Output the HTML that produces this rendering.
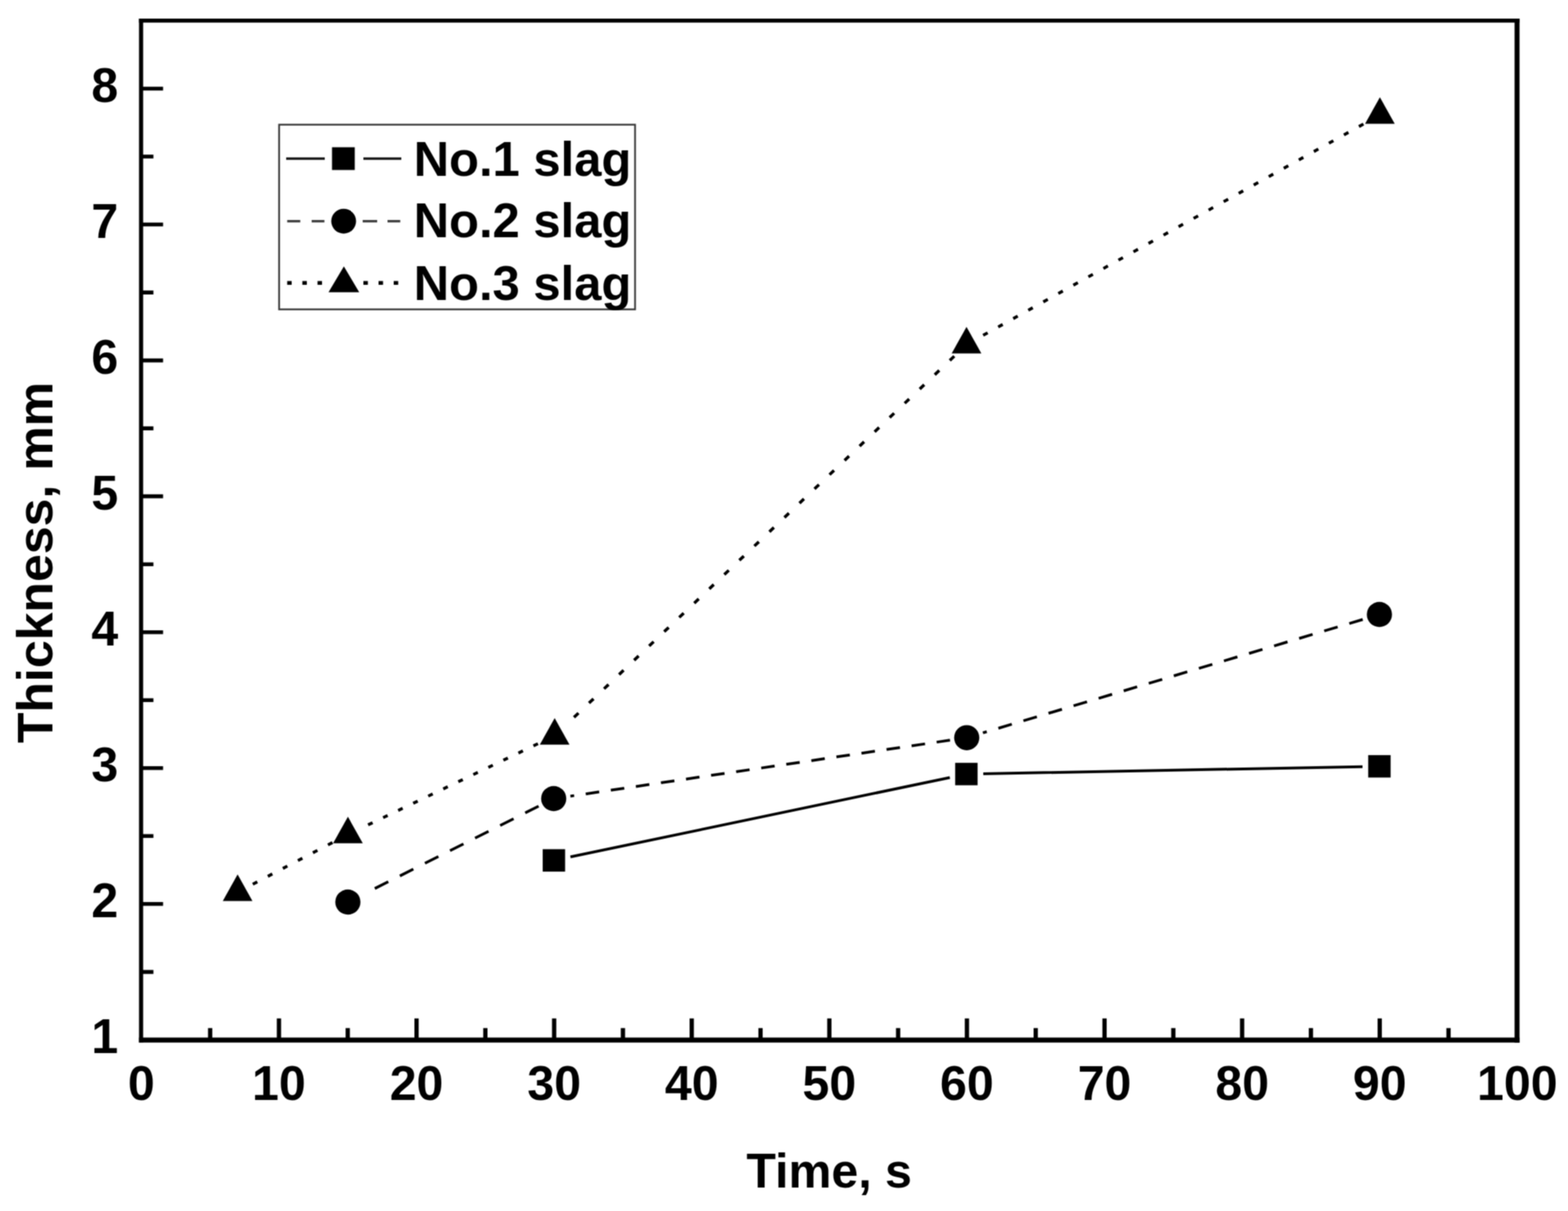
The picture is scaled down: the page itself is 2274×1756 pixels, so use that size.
<!DOCTYPE html>
<html><head><meta charset="utf-8"><title>Thickness vs Time</title>
<style>html,body{margin:0;padding:0;background:#fff;overflow:hidden}svg{display:block}</style>
</head><body>
<svg width="2274" height="1756" viewBox="0 0 2274 1756">
<rect width="2274" height="1756" fill="#fff"/>
<defs><filter id="b" x="0" y="0" width="2274" height="1756" filterUnits="userSpaceOnUse" color-interpolation-filters="sRGB"><feConvolveMatrix order="3" kernelMatrix="1 2 1 2 4 2 1 2 1" divisor="16" edgeMode="duplicate"/></filter></defs>
<g filter="url(#b)">
<rect width="2274" height="1756" fill="#fff"/>
<path d="M204.60 1507.85H236.50M204.60 1409.33H222.50M204.60 1310.80H236.50M204.60 1212.28H222.50M204.60 1113.75H236.50M204.60 1015.23H222.50M204.60 916.70H236.50M204.60 818.18H222.50M204.60 719.65H236.50M204.60 621.12H222.50M204.60 522.60H236.50M204.60 424.08H222.50M204.60 325.55H236.50M204.60 227.03H222.50M204.60 128.50H236.50" stroke="#000" stroke-width="5.6" fill="none"/>
<path d="M304.77 1508.20V1490.70M404.55 1508.20V1476.70M504.32 1508.20V1490.70M604.10 1508.20V1476.70M703.88 1508.20V1490.70M803.65 1508.20V1476.70M903.42 1508.20V1490.70M1003.20 1508.20V1476.70M1102.97 1508.20V1490.70M1202.75 1508.20V1476.70M1302.52 1508.20V1490.70M1402.30 1508.20V1476.70M1502.07 1508.20V1490.70M1601.85 1508.20V1476.70M1701.62 1508.20V1490.70M1801.40 1508.20V1476.70M1901.17 1508.20V1490.70M2000.95 1508.20V1476.70M2100.72 1508.20V1490.70" stroke="#000" stroke-width="6.2" fill="none"/>
<path d="M204.6 27V1511.5" stroke="#000" stroke-width="6"/>
<path d="M201.6 29.8H2203.6" stroke="#000" stroke-width="5.8"/>
<path d="M2200.1 27V1511.9" stroke="#000" stroke-width="7.2"/>
<path d="M201.6 1508.2H2203.7" stroke="#000" stroke-width="7.2"/>
<text x="205.00" y="1595" text-anchor="middle" font-size="70" font-family="Liberation Sans, Arial, sans-serif" font-weight="bold">0</text>
<text x="404.55" y="1595" text-anchor="middle" font-size="70" font-family="Liberation Sans, Arial, sans-serif" font-weight="bold">10</text>
<text x="604.10" y="1595" text-anchor="middle" font-size="70" font-family="Liberation Sans, Arial, sans-serif" font-weight="bold">20</text>
<text x="803.65" y="1595" text-anchor="middle" font-size="70" font-family="Liberation Sans, Arial, sans-serif" font-weight="bold">30</text>
<text x="1003.20" y="1595" text-anchor="middle" font-size="70" font-family="Liberation Sans, Arial, sans-serif" font-weight="bold">40</text>
<text x="1202.75" y="1595" text-anchor="middle" font-size="70" font-family="Liberation Sans, Arial, sans-serif" font-weight="bold">50</text>
<text x="1402.30" y="1595" text-anchor="middle" font-size="70" font-family="Liberation Sans, Arial, sans-serif" font-weight="bold">60</text>
<text x="1601.85" y="1595" text-anchor="middle" font-size="70" font-family="Liberation Sans, Arial, sans-serif" font-weight="bold">70</text>
<text x="1801.40" y="1595" text-anchor="middle" font-size="70" font-family="Liberation Sans, Arial, sans-serif" font-weight="bold">80</text>
<text x="2000.95" y="1595" text-anchor="middle" font-size="70" font-family="Liberation Sans, Arial, sans-serif" font-weight="bold">90</text>
<text x="2200.50" y="1595" text-anchor="middle" font-size="70" font-family="Liberation Sans, Arial, sans-serif" font-weight="bold">100</text>
<text x="171.5" y="1527.35" text-anchor="end" font-size="70" font-family="Liberation Sans, Arial, sans-serif" font-weight="bold">1</text>
<text x="171.5" y="1330.30" text-anchor="end" font-size="70" font-family="Liberation Sans, Arial, sans-serif" font-weight="bold">2</text>
<text x="171.5" y="1133.25" text-anchor="end" font-size="70" font-family="Liberation Sans, Arial, sans-serif" font-weight="bold">3</text>
<text x="171.5" y="936.20" text-anchor="end" font-size="70" font-family="Liberation Sans, Arial, sans-serif" font-weight="bold">4</text>
<text x="171.5" y="739.15" text-anchor="end" font-size="70" font-family="Liberation Sans, Arial, sans-serif" font-weight="bold">5</text>
<text x="171.5" y="542.10" text-anchor="end" font-size="70" font-family="Liberation Sans, Arial, sans-serif" font-weight="bold">6</text>
<text x="171.5" y="345.05" text-anchor="end" font-size="70" font-family="Liberation Sans, Arial, sans-serif" font-weight="bold">7</text>
<text x="171.5" y="148.00" text-anchor="end" font-size="70" font-family="Liberation Sans, Arial, sans-serif" font-weight="bold">8</text>
<text x="1202.5" y="1721.5" text-anchor="middle" font-size="70" font-family="Liberation Sans, Arial, sans-serif" font-weight="bold">Time, s</text>
<text transform="translate(76,815.6) rotate(-90)" x="0" y="0" text-anchor="middle" font-size="72.5" font-family="Liberation Sans, Arial, sans-serif" font-weight="bold">Thickness, mm</text>
<path d="M827.28 1242.58L1377.52 1127.42M1426.00 1121.94L1976.00 1111.66" stroke="#000" stroke-width="4" fill="none"/>
<path d="M543.60 1288.35L563.10 1278.55M579.95 1270.09L599.45 1260.29M616.30 1251.82L635.80 1242.02M652.65 1233.55L672.15 1223.75M689.00 1215.29L708.50 1205.49M725.35 1197.02L744.85 1187.22M761.70 1178.75L781.11 1169.00M827.24 1154.43L832.65 1153.63M849.50 1151.15L869.00 1148.27M885.85 1145.79L905.35 1142.91M922.20 1140.43L941.70 1137.55M958.55 1135.07L978.05 1132.20M994.90 1129.71L1014.40 1126.84M1031.25 1124.35L1050.75 1121.48M1067.60 1118.99L1087.10 1116.12M1103.95 1113.64L1123.45 1110.76M1140.30 1108.28L1159.80 1105.40M1176.65 1102.92L1196.15 1100.04M1213.00 1097.56L1232.50 1094.69M1249.35 1092.20L1268.85 1089.33M1285.70 1086.84L1305.20 1083.97M1322.05 1081.49L1341.55 1078.61M1358.40 1076.13L1377.76 1073.27M1425.48 1062.69L1431.05 1061.03M1447.90 1056.00L1467.40 1050.17M1484.25 1045.14L1503.75 1039.32M1520.60 1034.29L1540.10 1028.47M1556.95 1023.44L1576.45 1017.61M1593.30 1012.58L1612.80 1006.76M1629.65 1001.73L1649.15 995.91M1666.00 990.87L1685.50 985.05M1702.35 980.02L1721.85 974.20M1738.70 969.17L1758.20 963.35M1775.05 958.31L1794.55 952.49M1811.40 947.46L1830.90 941.64M1847.75 936.61L1867.25 930.79M1884.10 925.75L1903.60 919.93M1920.45 914.90L1939.95 909.08M1956.80 904.05L1976.30 898.23" stroke="#000" stroke-width="4" fill="none"/>
<path d="M366.65 1282.08L373.15 1278.68M388.45 1270.69L394.95 1267.29M410.25 1259.30L416.75 1255.90M432.05 1247.91L438.55 1244.51M453.85 1236.52L460.35 1233.12M475.65 1225.13L482.15 1221.73M533.85 1196.03L540.35 1192.92M555.65 1185.62L562.15 1182.51M577.45 1175.20L583.95 1172.10M599.25 1164.79L605.75 1161.69M621.05 1154.38L627.55 1151.27M642.85 1143.96L649.35 1140.86M664.65 1133.55L671.15 1130.45M686.45 1123.14L692.95 1120.03M708.25 1112.73L714.75 1109.62M730.05 1102.31L736.55 1099.21M751.85 1091.90L758.35 1088.80M773.65 1081.49L780.15 1078.38M832.45 1040.16L838.95 1033.99M854.25 1019.46L860.75 1013.29M876.05 998.76L882.55 992.59M897.85 978.06L904.35 971.89M919.65 957.36L926.15 951.19M941.45 936.66L947.95 930.48M963.25 915.95L969.75 909.78M985.05 895.25L991.55 889.08M1006.85 874.55L1013.35 868.38M1028.65 853.85L1035.15 847.68M1050.45 833.15L1056.95 826.98M1072.25 812.45L1078.75 806.28M1094.05 791.75L1100.55 785.57M1115.85 771.05L1122.35 764.87M1137.65 750.34L1144.15 744.17M1159.45 729.64L1165.95 723.47M1181.25 708.94L1187.75 702.77M1203.05 688.24L1209.55 682.07M1224.85 667.54L1231.35 661.37M1246.65 646.84L1253.15 640.66M1268.45 626.14L1274.95 619.96M1290.25 605.43L1296.75 599.26M1312.05 584.73L1318.55 578.56M1333.85 564.03L1340.35 557.86M1355.65 543.33L1362.15 537.16M1377.45 522.63L1383.93 516.47M1425.85 486.19L1432.35 482.58M1447.65 474.08L1454.15 470.47M1469.45 461.97L1475.95 458.36M1491.25 449.86L1497.75 446.25M1513.05 437.75L1519.55 434.14M1534.85 425.64L1541.35 422.03M1556.65 413.53L1563.15 409.92M1578.45 401.42L1584.95 397.81M1600.25 389.31L1606.75 385.70M1622.05 377.20L1628.55 373.59M1643.85 365.09L1650.35 361.48M1665.65 352.99L1672.15 349.38M1687.45 340.88L1693.95 337.27M1709.25 328.77L1715.75 325.16M1731.05 316.66L1737.55 313.05M1752.85 304.55L1759.35 300.94M1774.65 292.44L1781.15 288.83M1796.45 280.33L1802.95 276.72M1818.25 268.22L1824.75 264.61M1840.05 256.11L1846.55 252.50M1861.85 244.00L1868.35 240.39M1883.65 231.89L1890.15 228.28M1905.45 219.79L1911.95 216.18M1927.25 207.68L1933.75 204.07M1949.05 195.57L1955.55 191.96M1970.85 183.46L1977.35 179.85" stroke="#000" stroke-width="4.4" fill="none"/>
<g fill="#000"><rect x="787.05" y="1231.35" width="32.5" height="32.5"/><rect x="1385.25" y="1106.15" width="32.5" height="32.5"/><rect x="1984.25" y="1094.95" width="32.5" height="32.5"/><circle cx="504.50" cy="1308.00" r="18.25"/><circle cx="803.00" cy="1158.00" r="18.25"/><circle cx="1402.00" cy="1069.70" r="18.25"/><circle cx="2000.50" cy="891.00" r="18.25"/><path d="M344.60 1267.93L366.10 1306.43L323.10 1306.43Z"/><path d="M504.60 1184.33L526.10 1222.83L483.10 1222.83Z"/><path d="M804.40 1041.13L825.90 1079.63L782.90 1079.63Z"/><path d="M1401.70 473.93L1423.20 512.43L1380.20 512.43Z"/><path d="M2001.20 140.93L2022.70 179.43L1979.70 179.43Z"/></g>
<rect x="404.8" y="180.8" width="516.2" height="267.8" fill="none" stroke="#3a3a3a" stroke-width="2.6"/>
<path d="M415 230.0H471M527 230.0H582" stroke="#111" stroke-width="3.6"/>
<rect x="481.50" y="213.50" width="33" height="33" fill="#000"/>
<path d="M416.5 320.7H435.5M452 320.7H470.5M526 320.7H547M562 320.7H580.5" stroke="#3c3c3c" stroke-width="3.6"/>
<circle cx="498.40" cy="320.70" r="18.0" fill="#000"/>
<path d="M416.5 410.3H423.0M438.5 410.3H445.0M460.5 410.3H467.0M527 410.3H533.5M549 410.3H555.5M571 410.3H577.5" stroke="#000" stroke-width="5.5"/>
<path d="M498.70 386.30L520.95 423.80L476.45 423.80Z" fill="#000"/>
<text x="600" y="254.8" font-size="71" font-family="Liberation Sans, Arial, sans-serif" font-weight="bold">No.1 slag</text>
<text x="600" y="344.3" font-size="71" font-family="Liberation Sans, Arial, sans-serif" font-weight="bold">No.2 slag</text>
<text x="600" y="434.6" font-size="71" font-family="Liberation Sans, Arial, sans-serif" font-weight="bold">No.3 slag</text>
</g></svg>
</body></html>
